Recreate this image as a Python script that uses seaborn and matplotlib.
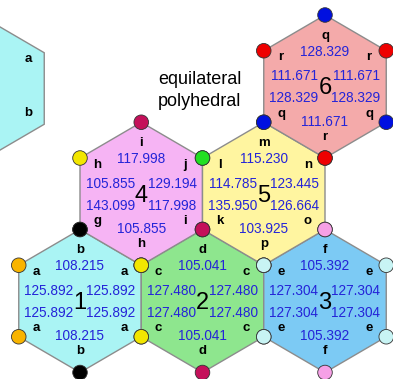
import numpy as np
import pandas as pd
import matplotlib.pyplot as plt
import seaborn as sns

# hexagon ids, grid position (row, col) and fill colour
hex_ids = ["1", "2", "3", "4", "5", "6"]
hex_rows = [0, 0, 0, 1, 1, 2]
hex_cols = [0, 1, 2, 0, 1, 2]
hex_fill = ["#aaf4f4", "#8ee68e", "#7ccaf4", "#f6b4f4", "#fff5a0", "#f4aaaa"]

# vertex order: top, upper-left, upper-right, lower-left, lower-right, bottom
vertex_labels = [
    ["b", "a", "a", "a", "a", "b"],
    ["d", "c", "c", "c", "c", "d"],
    ["f", "e", "e", "e", "e", "f"],
    ["i", "h", "j", "g", "i", "h"],
    ["m", "l", "n", "k", "o", "p"],
    ["q", "r", "r", "q", "q", "r"],
]
angle_values = [
    ["108.215", "125.892", "125.892", "125.892", "125.892", "108.215"],
    ["105.041", "127.480", "127.480", "127.480", "127.480", "105.041"],
    ["105.392", "127.304", "127.304", "127.304", "127.304", "105.392"],
    ["117.998", "105.855", "129.194", "143.099", "117.998", "105.855"],
    ["115.230", "114.785", "123.445", "135.950", "126.664", "103.925"],
    ["128.329", "111.671", "111.671", "128.329", "128.329", "111.671"],
]
dot_colors = [
    ["black", "#f8b400", "#f2e600", "#f8b400", "#f2e600", "black"],
    ["#c4105a", "#f2e600", "#c8f4f4", "#f2e600", "#c8f4f4", "#c4105a"],
    ["#f6a0e6", "#c8f4f4", "#c8f4f4", "#c8f4f4", "#c8f4f4", "#f6a0e6"],
    ["#c4105a", "#f2e600", "#22e022", "black", "#c4105a", "#f2e600"],
    ["#0010e0", "#22e022", "#ee0000", "#c4105a", "#f6a0e6", "#c8f4f4"],
    ["#0010e0", "#ee0000", "#ee0000", "#0010e0", "#0010e0", "#ee0000"],
]

R = 71.5
HX = 122.5
X0, Y0 = 80.0, 301.0


def center(row, col):
    return X0 + col * HX + (row % 2) * HX / 2, Y0 - row * 1.5 * R


def hex_vertices(cx, cy):
    # top, upper-left, upper-right, lower-left, lower-right, bottom
    return [(cx, cy - R), (cx - HX / 2, cy - R / 2), (cx + HX / 2, cy - R / 2),
            (cx - HX / 2, cy + R / 2), (cx + HX / 2, cy + R / 2), (cx, cy + R)]


fig = plt.figure(figsize=(3.93, 3.79), dpi=100)
ax = fig.add_axes([0, 0, 1, 1])

blue = "#2424d8"
font = "Liberation Sans"

# partial hexagon at the top left
pcx, pcy = -17.0, 88.5
pv = hex_vertices(pcx, pcy)
ring = [pv[0], pv[2], pv[4], pv[5], pv[3], pv[1]]
ax.fill([p[0] for p in ring], [p[1] for p in ring], color="#aaf4f4",
        ec="#8c8c8c", lw=1, zorder=1)
ax.text(pcx + 45, pcy - 29, "a", ha="center", va="center", fontsize=9.5,
        fontweight="bold", family=font)
ax.text(pcx + 45, pcy + 25, "b", ha="center", va="center", fontsize=9.5,
        fontweight="bold", family=font)

rows = []
for k in range(len(hex_ids)):
    cx, cy = center(hex_rows[k], hex_cols[k])
    v = hex_vertices(cx, cy)
    ring = [v[0], v[2], v[4], v[5], v[3], v[1]]
    ax.fill([p[0] for p in ring], [p[1] for p in ring], color=hex_fill[k],
            ec="#8c8c8c", lw=1, zorder=1)
    lab = vertex_labels[k]
    val = angle_values[k]
    # labels near vertices
    lpos = [(0, -51), (-44, -29), (44, -29), (-44, 27), (44, 27), (0, 50)]
    for (dx, dy), t in zip(lpos, lab):
        ax.text(cx + dx, cy + dy, t, ha="center", va="center", fontsize=9.5,
                fontweight="bold", family=font, zorder=3)
    vpos = [(0, -35), (-31, -10), (31, -10), (-31, 12), (31, 12), (0, 35)]
    for (dx, dy), t in zip(vpos, val):
        ax.text(cx + dx, cy + dy, t, ha="center", va="center", fontsize=9.8,
                color=blue, family=font, zorder=3)
    ax.text(cx, cy + 2, hex_ids[k], ha="center", va="center", fontsize=17,
            family=font, zorder=3)
    for p, c in zip(v, dot_colors[k]):
        rows.append({"x": p[0], "y": p[1], "c": c})

dots = pd.DataFrame(rows)
sns.scatterplot(data=dots, x="x", y="y", hue="c",
                palette={c: c for c in dots["c"].unique()}, legend=False,
                s=110, edgecolor="#333333", linewidth=0.6, ax=ax, zorder=4)

ax.text(158, 80, "equilateral", ha="left", va="center", fontsize=13,
        family=font)
ax.text(158, 102, "polyhedral", ha="left", va="center", fontsize=13,
        family=font)

ax.set_xlim(0, 393)
ax.set_ylim(379, 0)
ax.axis("off")
fig.savefig("out.png", dpi=100)
